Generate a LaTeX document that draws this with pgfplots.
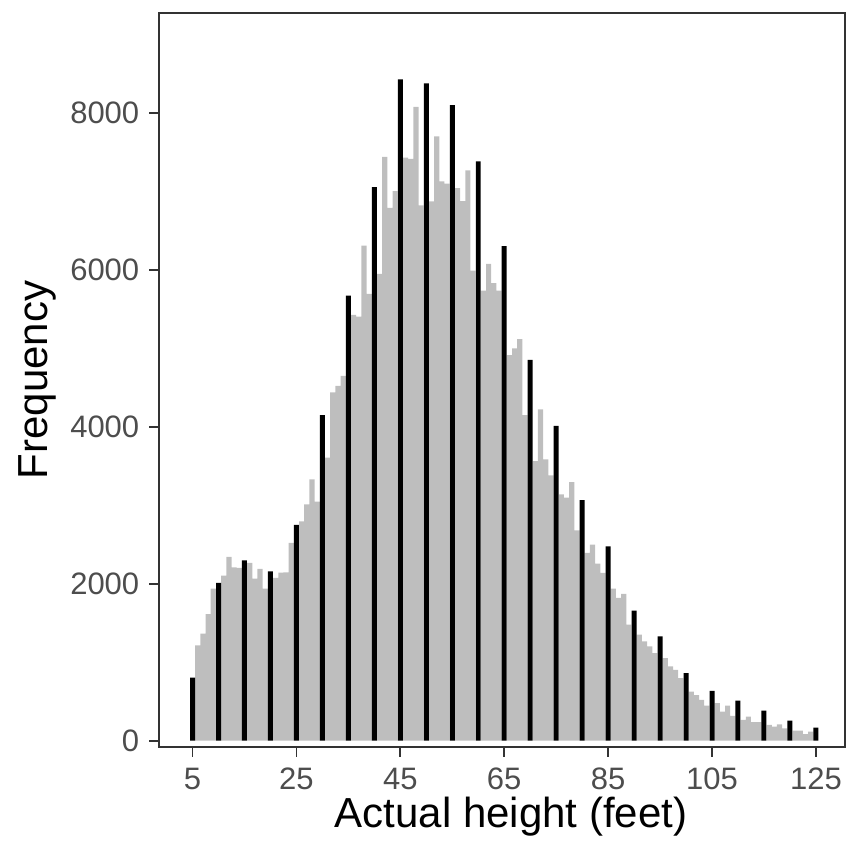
\documentclass[border=0pt]{standalone}
\usepackage{fontspec}
\setmainfont{Liberation Sans}
\usepackage{pgfplots}
\usepackage{pgfplotstable}
\usetikzlibrary{calc}
\pgfplotsset{compat=1.18}
\definecolor{bargray}{RGB}{190,190,190}
\definecolor{ticktext}{RGB}{77,77,77}
\definecolor{axisline}{RGB}{51,51,51}

\pgfplotstableread{
x y
6 1214
7 1364
8 1615
9 1939
11 2105
12 2343
13 2211
14 2203
16 2267
17 2066
18 2190
19 1939
21 2075
22 2143
23 2147
24 2522
26 2795
27 3012
28 3332
29 3047
31 3609
32 4440
33 4524
34 4652
36 5428
37 5406
38 6313
39 5696
41 5952
42 7443
43 6795
44 7008
46 7434
47 7420
48 8082
49 6825
51 6876
52 7706
53 7131
54 7102
56 7047
57 6881
58 7272
59 5994
61 5738
62 6079
63 5833
64 5738
66 4917
67 5002
68 5121
69 4150
71 3566
72 4226
73 3587
74 3383
76 3140
77 3098
78 3297
79 2680
81 2395
82 2501
83 2258
84 2139
86 1939
87 1820
88 1871
89 1480
91 1351
92 1265
93 1201
94 1117
96 1053
97 946
98 904
99 797
101 626
102 580
103 520
104 447
106 478
107 371
108 447
109 316
111 265
112 307
113 235
114 235
116 200
117 179
118 209
119 158
121 128
122 128
123 82
124 115
}\graydata

\pgfplotstableread{
x y
5 805
10 2011
15 2300
20 2160
25 2752
30 4150
35 5674
40 7060
45 8431
50 8380
55 8103
60 7387
65 6305
70 4856
75 4013
80 3067
85 2479
90 1657
95 1329
100 861
105 635
110 511
115 383
120 256
125 166
}\blackdata

\begin{document}
\begin{tikzpicture}
\begin{axis}[
  scale only axis, width=342.85pt, height=366.7pt,
  xmin=-1.4, xmax=130.6, ymin=-77, ymax=9275,
  axis line style={draw=axisline, line width=0.9pt},
  tick style={draw=axisline, line width=0.9pt},
  tick align=outside, major tick length=5pt,
  tick pos=left,
  xtick={5,25,...,125}, ytick={0,2000,...,8000},
  minor tick num=0,
  /pgf/number format/assume math mode=true,
  /pgf/number format/1000 sep={},
  scaled y ticks=false,
  tick label style={font=\fontsize{15.5}{18}\selectfont, text=ticktext},
  xticklabel style={yshift=-2pt},
  yticklabel style={xshift=-1.5pt},
  label style={font=\fontsize{21}{25}\selectfont, text=black},
  xlabel={Actual height (feet)}, ylabel={Frequency},
  xlabel style={at={(axis description cs:0.513,-0.0959)}, anchor=center},
  ylabel style={at={(axis description cs:-0.178,0.5)}, anchor=center},
]
\coordinate (O) at (rel axis cs:0,0);
\addplot[ybar, bar width=1, bar shift=0pt, fill=bargray, draw=none] table[x=x,y=y] {\graydata};
\addplot[ybar, bar width=0.96, bar shift=0pt, fill=black, draw=none] table[x=x,y=y] {\blackdata};
\end{axis}
\pgfresetboundingbox
\path[use as bounding box] ($(O)+(-79.65pt,-50.15pt)$) rectangle ++(423pt,423.5pt);
\end{tikzpicture}
\end{document}
